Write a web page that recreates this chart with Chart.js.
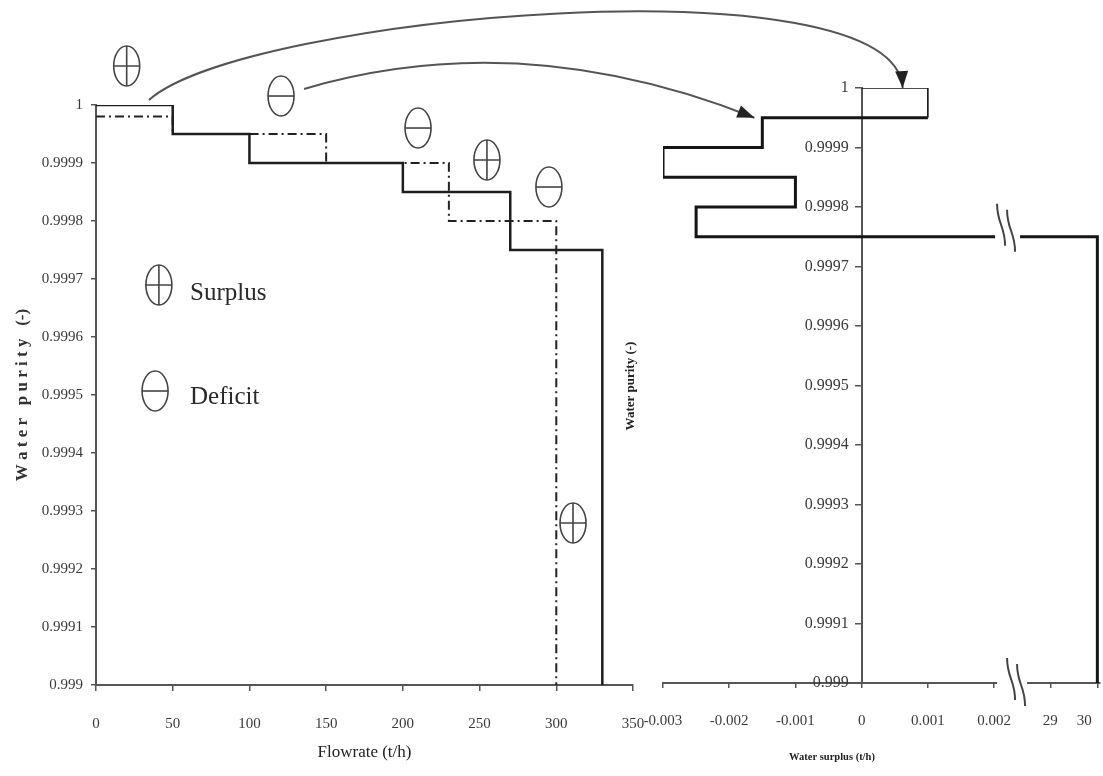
<!DOCTYPE html>
<html><head><meta charset="utf-8">
<script src="https://cdn.jsdelivr.net/npm/chart.js@4.4.1/dist/chart.umd.min.js"></script>
<style>
html,body{margin:0;padding:0;background:#fff;}
#wrap{position:relative;width:1103px;height:776px;background:#fff;}
canvas{position:absolute;left:0;top:0;}
</style></head><body>
<div id="wrap">
<canvas id="left" width="1103" height="776"></canvas>
<canvas id="right" width="1103" height="776"></canvas>
</div>
<script>
// ---------- data ----------
const demandFlow   = [0, 50, 100, 200, 270, 330];
const demandPurity = [1, 0.99995, 0.9999, 0.99985, 0.99975, 0.999];
const sourceFlow   = [0, 50, 150, 230, 300];
const sourcePurity = [0.99998, 0.99995, 0.9999, 0.9998, 0.999];
const surplusValues = [0, 0.001, -0.0015, -0.003, -0.001, -0.0025, 30];
const surplusPurity = [1, 0.99995, 0.9999, 0.99985, 0.9998, 0.99975, 0.999];
const purityTicks = [0.999, 0.9991, 0.9992, 0.9993, 0.9994, 0.9995, 0.9996, 0.9997, 0.9998, 0.9999, 1];
const purityTickLabels = ['0.999','0.9991','0.9992','0.9993','0.9994','0.9995','0.9996','0.9997','0.9998','0.9999','1'];
const flowTicks = [0, 50, 100, 150, 200, 250, 300, 350];
const surplusTicks = [-0.003, -0.002, -0.001, 0, 0.001, 0.002, 29, 30];
const surplusTickLabels = ['-0.003','-0.002','-0.001','0','0.001','0.002','29','30'];
// annotation symbols on left panel (data coords)
const symbolKinds = ['+', '-', '-', '+', '-', '+', '+', '-'];
const symbolFlow  = [20, 120.6, 209.9, 254.8, 295.2, 310.9, 41, 38.5];
const symbolPur   = [1.0000672, 1.0000155, 0.9999603, 0.9999052, 0.9998586, 0.9992793, 0.9996897, 0.9995069];
const legendTexts = ['Surplus', 'Deficit'];
const legendFlow  = [61.3, 61.3];
const legendPur   = [0.9996638, 0.9994845];

// broken surplus axis: small values kept, large values mapped behind the break
function toAxis(v) { return v <= 0.0025 ? v : 0.00285 + (v - 29) * 0.00071; }

// linear scale with label offsets (labels left of a value-positioned axis, edge label pulled inside)
class OffsetLinearScale extends Chart.LinearScale {
  _computeLabelItems(chartArea) {
    const items = super._computeLabelItems(chartArea);
    const t = this.options.ticks;
    if (this.axis === 'y') {
      const shift = t.padding + this.options.grid.tickLength;
      items.forEach(it => { it.options.translation[0] -= shift; });
    } else if (items.length) {
      items[items.length - 1].options.translation[0] -= 13;
    }
    return items;
  }
}
OffsetLinearScale.id = 'offsetLinear';
OffsetLinearScale.defaults = Chart.LinearScale.defaults;
Chart.register(OffsetLinearScale);

const tickFont = {family: 'Liberation Serif', size: 15};
const tickColor = '#3a3a3a';
const axisColor = '#555';

const leftChart = new Chart(document.getElementById('left'), {
  type: 'line',
  data: { datasets: [
    { data: demandFlow.map((x, i) => ({x, y: demandPurity[i]})), stepped: 'before',
      borderColor: '#1e1e1e', borderWidth: 2.5, pointRadius: 0, fill: false },
    { data: sourceFlow.map((x, i) => ({x, y: sourcePurity[i]})), stepped: 'before',
      borderColor: '#222', borderWidth: 2, borderDash: [9, 4, 2, 4], pointRadius: 0, fill: false }
  ]},
  options: {
    animation: false, responsive: false, events: [],
    layout: {padding: {left: 0, top: 105, right: 470, bottom: 0}},
    plugins: {legend: {display: false}, tooltip: {enabled: false}},
    scales: {
      x: { type: 'linear', min: 0, max: 350,
        afterBuildTicks: s => { s.ticks = flowTicks.map(v => ({value: v})); },
        afterFit: s => { s.height = 91; s.paddingLeft = 0; s.paddingRight = 0; },
        grid: {display: true, drawOnChartArea: false, drawTicks: true, tickLength: 6, color: axisColor, lineWidth: 1.5},
        border: {display: true, color: axisColor, width: 2},
        ticks: {padding: 24, font: tickFont, color: tickColor, maxRotation: 0, autoSkip: false},
        title: {display: true, text: 'Flowrate (t/h)', font: {family: 'Liberation Serif', size: 17}, color: '#222', padding: {top: 0, bottom: 13}}
      },
      y: { type: 'linear', min: 0.999, max: 1,
        afterBuildTicks: s => { s.ticks = purityTicks.map(v => ({value: v})); },
        afterFit: s => { s.width = 96; s.paddingTop = 0; s.paddingBottom = 0; },
        grid: {display: true, drawOnChartArea: false, drawTicks: true, tickLength: 5, color: axisColor, lineWidth: 1.5},
        border: {display: true, color: axisColor, width: 2},
        ticks: {padding: 8, font: tickFont, color: tickColor, autoSkip: false, callback: (v, i) => purityTickLabels[i]},
        title: {display: true, text: 'W a t e r   p u r i t y   (-)', font: {family: 'Liberation Serif', size: 17, weight: 'bold'}, color: '#333', padding: {top: 12, bottom: 0}}
      }
    }
  }
});

function drawBreak(ctx, cx, cy) {
  ctx.strokeStyle = '#444'; ctx.lineWidth = 2;
  [[0, 0], [10, 6]].forEach(([dx, dy]) => {
    const x0 = cx + dx - 5, y0 = cy + dy - 22;
    ctx.beginPath(); ctx.moveTo(x0, y0);
    ctx.bezierCurveTo(x0, y0 + 20, x0 + 8, y0 + 22, x0 + 8, y0 + 42);
    ctx.stroke();
  });
}
function arrowHead(ctx, tx, ty, fx, fy) {
  const a = Math.atan2(ty - fy, tx - fx), len = 17, w = 6.5;
  ctx.beginPath();
  ctx.moveTo(tx, ty);
  ctx.lineTo(tx - len * Math.cos(a) + w * Math.sin(a), ty - len * Math.sin(a) - w * Math.cos(a));
  ctx.lineTo(tx - len * Math.cos(a) - w * Math.sin(a), ty - len * Math.sin(a) + w * Math.cos(a));
  ctx.closePath(); ctx.fill();
}

const overlay = {
  id: 'overlay',
  afterDraw(chart) {
    const ctx = chart.ctx;
    const xs = chart.scales.x, ys = chart.scales.y;
    const lx = leftChart.scales.x, ly = leftChart.scales.y;
    ctx.save();
    // axis break
    const bx = xs.getPixelForValue(toAxis(0.002));
    const lineY = ys.getPixelForValue(surplusPurity[5]);
    const axisY = chart.chartArea.bottom;
    ctx.fillStyle = '#fff';
    ctx.fillRect(bx + 1, lineY - 5, 25, 10);
    ctx.fillRect(bx + 3, axisY - 4, 30, 8);
    drawBreak(ctx, bx + 8, lineY - 11);
    drawBreak(ctx, bx + 18, axisY - 3);

    // circled symbols
    ctx.strokeStyle = '#444'; ctx.lineWidth = 1.6;
    symbolKinds.forEach((k, i) => {
      const cx = lx.getPixelForValue(symbolFlow[i]), cy = ly.getPixelForValue(symbolPur[i]);
      const rx = 13, ry = 20;
      ctx.beginPath(); ctx.ellipse(cx, cy, rx, ry, 0, 0, Math.PI * 2); ctx.stroke();
      ctx.beginPath(); ctx.moveTo(cx - rx, cy); ctx.lineTo(cx + rx, cy);
      if (k === '+') { ctx.moveTo(cx, cy - ry); ctx.lineTo(cx, cy + ry); }
      ctx.stroke();
    });
    // legend texts
    ctx.fillStyle = '#2a2a2a'; ctx.font = '25px "Liberation Serif"'; ctx.textAlign = 'left'; ctx.textBaseline = 'alphabetic';
    legendTexts.forEach((t, i) => ctx.fillText(t, lx.getPixelForValue(legendFlow[i]), ly.getPixelForValue(legendPur[i])));

    // arrows
    ctx.strokeStyle = '#555'; ctx.fillStyle = '#222'; ctx.lineWidth = 2;
    const s1 = {x: lx.getPixelForValue(34.5), y: ly.getPixelForValue(1.0000086)};
    const e1 = {x: xs.getPixelForValue(0.00062), y: ys.getPixelForValue(1)};
    const c1a = {x: s1.x + 95, y: s1.y - 85}, c1b = {x: e1.x - 8, y: e1.y - 130};
    ctx.beginPath(); ctx.moveTo(s1.x, s1.y); ctx.bezierCurveTo(c1a.x, c1a.y, c1b.x, c1b.y, e1.x, e1.y); ctx.stroke();
    arrowHead(ctx, e1.x, e1.y, c1b.x, c1b.y);
    const s2 = {x: lx.getPixelForValue(135.6), y: ly.getPixelForValue(1.0000276)};
    const e2 = {x: xs.getPixelForValue(-0.00162), y: ys.getPixelForValue(0.99995)};
    const c2 = {x: s2.x + 217, y: s2.y - 64};
    ctx.beginPath(); ctx.moveTo(s2.x, s2.y); ctx.quadraticCurveTo(c2.x, c2.y, e2.x, e2.y); ctx.stroke();
    arrowHead(ctx, e2.x, e2.y, c2.x, c2.y);

    // right panel axis titles
    ctx.fillStyle = '#222'; ctx.textAlign = 'center'; ctx.textBaseline = 'middle';
    ctx.font = 'bold 10.5px "Liberation Serif"';
    ctx.fillText('Water surplus (t/h)', 832, 757);
    ctx.save(); ctx.translate(631, 386); ctx.rotate(-Math.PI / 2);
    ctx.font = 'bold 13px "Liberation Serif"';
    ctx.fillText('Water purity (-)', 0, 0);
    ctx.restore();
    ctx.restore();
  }
};

const rightChart = new Chart(document.getElementById('right'), {
  type: 'line',
  data: { datasets: [
    { data: surplusValues.map((v, i) => ({x: toAxis(v), y: surplusPurity[i]})), stepped: 'before',
      borderColor: '#151515', borderWidth: 3, pointRadius: 0, fill: false,
      segment: {borderWidth: c => c.p0DataIndex === 0 ? 1.6 : 3} }
  ]},
  options: {
    animation: false, responsive: false, events: [],
    layout: {padding: {left: 663, top: 88, right: 3, bottom: 0}},
    plugins: {legend: {display: false}, tooltip: {enabled: false}},
    scales: {
      x: { type: 'offsetLinear', min: -0.003, max: 0.0036,
        afterBuildTicks: s => { s.ticks = surplusTicks.map(v => ({value: toAxis(v)})); },
        afterFit: s => { s.height = 93; s.paddingLeft = 0; s.paddingRight = 0; },
        grid: {display: true, drawOnChartArea: false, drawTicks: true, tickLength: 5, color: axisColor, lineWidth: 1.5},
        border: {display: true, color: axisColor, width: 2},
        ticks: {padding: 24, font: tickFont, color: tickColor, maxRotation: 0, autoSkip: false, callback: (v, i) => surplusTickLabels[i]}
      },
      y: { type: 'offsetLinear', position: {x: 0}, min: 0.999, max: 1,
        afterBuildTicks: s => { s.ticks = purityTicks.map(v => ({value: v})); },
        afterFit: s => { s.width = 0; s.paddingTop = 0; s.paddingBottom = 0; },
        grid: {display: true, drawOnChartArea: false, drawTicks: true, tickLength: 6, color: axisColor, lineWidth: 1.5},
        border: {display: true, color: axisColor, width: 2},
        ticks: {padding: 7, font: {family: 'Liberation Serif', size: 16}, color: tickColor, autoSkip: false, callback: (v, i) => purityTickLabels[i]}
      }
    }
  },
  plugins: [overlay]
});
</script>
</body></html>
